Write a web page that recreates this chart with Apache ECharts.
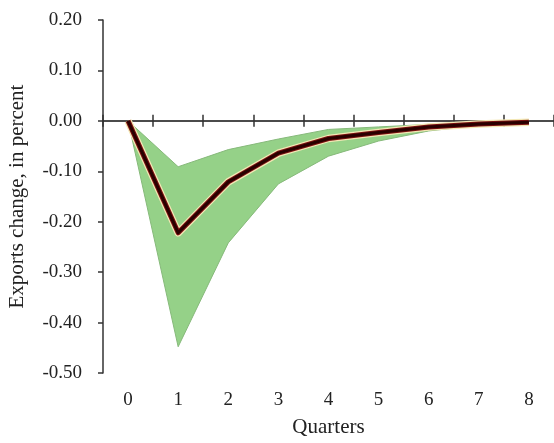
<!DOCTYPE html>
<html>
<head>
  <meta charset="UTF-8">
  <title>Exports response</title>
  <script src="https://cdn.jsdelivr.net/npm/echarts@6/dist/echarts.min.js"></script>
  <style>
    html, body { margin: 0; padding: 0; background: #fff; }
    #main { width: 554px; height: 443px; }
  </style>
</head>
<body>
<div id="main"></div>
<script>
  // quarters after the shock
  var quarters = ['0', '1', '2', '3', '4', '5', '6', '7', '8'];
  // point estimate
  var response = [0, -0.222, -0.121, -0.064, -0.035, -0.023, -0.012, -0.006, -0.003];
  // confidence band
  var upper = [0, -0.091, -0.057, -0.036, -0.017, -0.012, -0.007, -0.003, -0.002];
  var lower = [0, -0.448, -0.242, -0.125, -0.070, -0.040, -0.020, -0.009, -0.005];
  var yTicks = [-0.5, 0.2, 0.1];

  var bandWidth = [];
  for (var i = 0; i < upper.length; i++) {
    bandWidth.push(upper[i] - lower[i]);
  }

  var font = 'Liberation Serif';
  var chart = echarts.init(document.getElementById('main'));

  function lineLayer(color, width, z) {
    return {
      type: 'line',
      data: response,
      xAxisIndex: 0,
      symbol: 'none',
      z: z,
      silent: true,
      lineStyle: { color: color, width: width, cap: 'butt', join: 'round' }
    };
  }

  chart.setOption({
    animation: false,
    grid: {
      left: 103, top: 20, width: 451, height: 353,
      containLabel: false,
      outerBoundsMode: 'none'
    },
    xAxis: [
      {
        type: 'category',
        data: quarters,
        position: 'bottom',
        axisLine: { show: false, onZero: false },
        axisTick: { show: false },
        axisLabel: { margin: 18, fontFamily: font, fontSize: 19, color: '#222' },
        name: 'Quarters',
        nameLocation: 'middle',
        nameGap: 44,
        nameTextStyle: { fontFamily: font, fontSize: 21, color: '#222' }
      },
      {
        // zero line, ticks pointing up
        type: 'category',
        data: quarters,
        position: 'top',
        axisLine: { show: true, onZero: true, onZeroAxisIndex: 0, lineStyle: { color: '#111', width: 1.5 } },
        axisTick: { show: true, interval: 0, length: 6, lineStyle: { color: '#333', width: 1.5 } },
        axisLabel: { show: false }
      },
      {
        // same line, ticks pointing down
        type: 'category',
        data: quarters,
        position: 'bottom',
        axisLine: { show: false, onZero: true, onZeroAxisIndex: 0 },
        axisTick: { show: true, interval: 0, length: 6, lineStyle: { color: '#333', width: 1.5 } },
        axisLabel: { show: false }
      }
    ],
    yAxis: {
      type: 'value',
      min: yTicks[0],
      max: yTicks[1],
      interval: yTicks[2],
      splitLine: { show: false },
      axisLine: { show: true, lineStyle: { color: '#333', width: 1.5 } },
      axisTick: { show: true, length: 5, lineStyle: { color: '#333', width: 1.5 } },
      axisLabel: {
        margin: 21, fontFamily: font, fontSize: 19, color: '#222',
        formatter: function (v) { return v.toFixed(2); }
      },
      name: 'Exports change, in percent',
      nameLocation: 'middle',
      nameGap: 75,
      nameTextStyle: { fontFamily: font, fontSize: 21, color: '#222' }
    },
    series: [
      {
        type: 'line',
        data: lower,
        stack: 'band',
        stackStrategy: 'all',
        symbol: 'none',
        silent: true,
        lineStyle: { color: '#86b97a', width: 1 }
      },
      {
        type: 'line',
        data: bandWidth,
        stack: 'band',
        stackStrategy: 'all',
        symbol: 'none',
        silent: true,
        lineStyle: { color: '#86b97a', width: 1 },
        areaStyle: { color: '#95d188', opacity: 1 }
      },
      lineLayer('#f3e7b4', 7.5, 3),
      lineLayer('#7a1010', 5, 4),
      lineLayer('#2a0000', 3, 5)
    ]
  });
</script>
</body>
</html>
